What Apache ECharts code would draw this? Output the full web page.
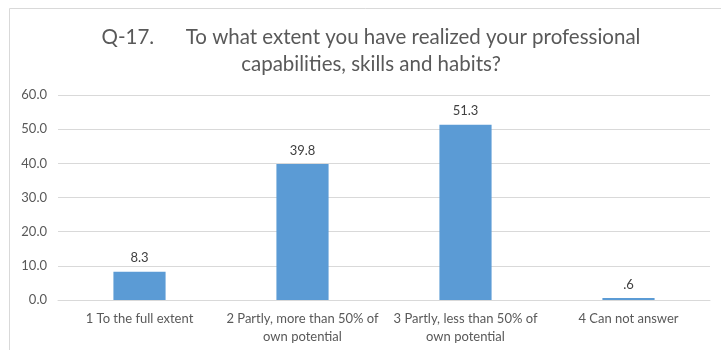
<!DOCTYPE html>
<html>
<head>
<meta charset="utf-8">
<script src="https://cdn.jsdelivr.net/npm/echarts@6/dist/echarts.min.js"></script>
<style>
  html, body { margin: 0; padding: 0; background: #fff; }
  #chart { width: 721px; height: 350px; }
</style>
</head>
<body>
<div id="chart"></div>
<script>
// Survey answers for question 17 (percent of respondents)
const titleText = 'Q-17.      To what extent you have realized your professional\ncapabilities, skills and habits?';
const categories = [
  '1 To the full extent',
  '2 Partly, more than 50% of\nown potential',
  '3 Partly, less than 50% of\nown potential',
  '4 Can not answer'
];
const values = [8.3, 39.8, 51.3, 0.6];
const yTicks = { min: 0, max: 60, interval: 10 };

const font = 'Lato, "Open Sans", sans-serif';

// Percent labels shown with one decimal, leading zero dropped below 1
function fmt(v) {
  const s = v.toFixed(1);
  return v > 0 && v < 1 ? s.replace(/^0/, '') : s;
}

const chart = echarts.init(document.getElementById('chart'), null, { renderer: 'canvas' });
chart.setOption({
  backgroundColor: '#ffffff',
  animation: false,
  graphic: [{
    type: 'rect',
    shape: { x: 9.5, y: 8.5, width: 720, height: 350 },
    style: { fill: 'none', stroke: '#D9D9D9', lineWidth: 1 },
    silent: true
  }],
  title: {
    text: titleText,
    left: 366,
    top: 19,
    textAlign: 'center',
    textStyle: {
      fontFamily: font,
      fontSize: 20.5,
      fontWeight: 'normal',
      color: '#595959',
      lineHeight: 27,
      align: 'center'
    }
  },
  grid: { left: 58, right: 11, top: 95, bottom: 50 },
  xAxis: {
    type: 'category',
    data: categories,
    axisLine: { lineStyle: { color: '#D9D9D9', width: 1 } },
    axisTick: { show: false },
    axisLabel: {
      interval: 0,
      color: '#595959',
      fontFamily: font,
      fontSize: 13,
      lineHeight: 18,
      margin: 10
    }
  },
  yAxis: {
    type: 'value',
    min: yTicks.min,
    max: yTicks.max,
    interval: yTicks.interval,
    axisLine: { show: false },
    axisTick: { show: false },
    splitLine: { lineStyle: { color: '#D9D9D9', width: 1 } },
    axisLabel: {
      color: '#595959',
      fontFamily: font,
      fontSize: 13,
      margin: 11,
      formatter: v => v.toFixed(1)
    }
  },
  series: [{
    type: 'bar',
    data: values,
    barWidth: '32%',
    itemStyle: { color: '#5B9BD5' },
    label: {
      show: true,
      position: 'top',
      distance: 7,
      color: '#404040',
      fontFamily: font,
      fontSize: 13,
      formatter: p => fmt(p.value)
    }
  }]
});
</script>
</body>
</html>
